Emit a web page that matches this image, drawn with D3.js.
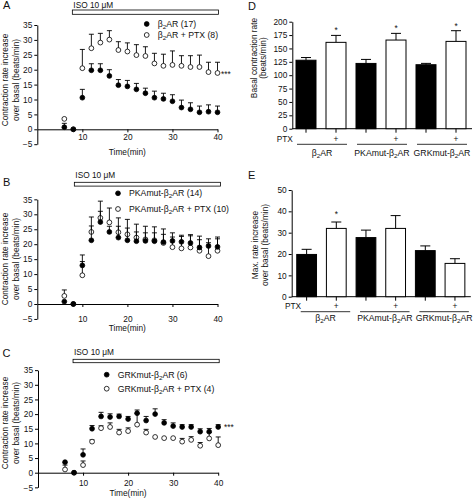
<!DOCTYPE html>
<html><head><meta charset="utf-8">
<script src="https://cdn.jsdelivr.net/npm/d3@7"></script>
<style>body{margin:0;background:#fff} svg{display:block;font-family:"Liberation Sans",Arial,sans-serif}</style>
</head><body><svg id="c" width="475" height="502"></svg>
<script>
// ---------- data ----------
const times = [6,8,10,12,14,16,18,20,22,24,26,28,30,32,34,36,38,40];
const yTicksTC = [-5,0,5,10,15,20,25,30,35];
const xTicksTC = [10,20,30,40];

const aFilled    = [0.7,0,10.6,19.8,19.8,17.9,14.8,14.4,13.4,12.1,10.6,10.2,9.4,7.3,6.7,5.7,5.9,5.7];
const aFilledErr = [2.0,null,13.4,22,22,20,16.7,16.4,15.4,13.8,12.8,12.1,11.6,9.8,8.9,7.8,8.2,7.8];
const aOpen      = [3.5,0,20.5,27.2,29.1,30.1,26.6,26.1,24.9,24.6,22.1,21.3,21.6,21.3,20.9,20.9,19.2,18.9];
const aOpenErr   = [null,null,26.8,31.9,32.2,33.1,29.4,29,28.4,27.7,25.5,25.2,26.3,24.7,24.7,24.9,22.5,22.5];

const bFilled    = [0.8,0,12.9,21.3,27.4,24.1,22.2,21.3,21,21.1,21,20.7,21.1,20.8,20.4,18.9,19.4,19.1];
const bFilledErr = [null,null,16.4,26.1,31,26,26,25.4,24.1,23.8,23.8,23.3,23.8,23,23.2,21.5,21.8,21.8];
const bOpen      = [2.7,0,9.6,24.1,28.8,27.3,24,23.3,22.2,21.6,21.3,20.4,19,18.6,18.9,17.8,16,17.8];
const bOpenErr   = [4.7,null,14.2,29.1,34.4,32.1,28.8,28.3,26.7,26,25.8,25.1,22.4,22.6,22.8,22.7,20.5,22.4];

const cFilled    = [3.6,0,6.1,15,19.2,19,19.2,18.3,20.3,17.8,20,17,15.9,15.6,15.6,14,14,15.6];
const cFilledErr = [null,null,8.1,16.1,20.6,20.1,20,19.2,21.4,19.2,21.8,18.1,17,16.4,16.4,15,15.1,16.4];
const cOpen      = [1.1,0,2.6,10.6,15.2,15.6,13.7,14.2,16.4,13.7,12.2,11.8,11.8,10.6,11.2,9.2,11.7,9.4];
const cOpenErr   = [2.6,null,4,11.2,16,17,14.8,15.3,20.3,14.8,null,null,null,11.7,12.3,10.3,13.7,12.2];

const barGroups = ["β_2AR","PKAmut-β_2AR","GRKmut-β_2AR"];
const ptxFlags  = ["","+","","+","","+"];
const basalRate = [128,161.4,122,165.7,119.6,163.2];
const basalSem  = [5,13,7.5,12.5,2.5,20];
const basalStar = [false,true,false,true,false,true];
const dTicks    = [0,25,50,75,100,125,150,175,200];
const maxRate   = [19.8,32,27.7,32,21.6,15.6];
const maxSem    = [2.4,3,3.5,6,2.2,2.2];
const maxStar   = [false,true,false,false,false,false];
const eTicks    = [0,10,20,30,40,50];

// ---------- helpers ----------
const svg = d3.select("#c");
const FS = 8.3;
function rich(t, s){
  s.split("_2").forEach((p,i)=>{
    if(i>0){
      t.append("tspan").attr("font-size","0.72em").attr("dy",2).text("2");
      t.append("tspan").attr("dy",-2).text(p);
    } else t.append("tspan").text(p);
  });
  return t;
}
function styleAxis(a){
  a.attr("font-family",null).attr("font-size",FS);
  a.selectAll("path,line").attr("stroke","#000").attr("stroke-width",1);
  a.selectAll("text").attr("fill","#111");
}

function timePanel(o){
  const x = d3.scaleLinear().domain([0,40]).range([o.left, o.left+180.2]);
  const y = d3.scaleLinear().domain([-5,35]).range([o.zero + 5*o.ppu, o.zero - 35*o.ppu]);
  const g = svg.append("g");
  const ya = g.append("g").attr("transform",`translate(${o.left},0)`)
    .call(d3.axisLeft(y).tickValues(yTicksTC).tickSize(3).tickSizeOuter(0).tickPadding(2));
  styleAxis(ya);
  const xa = g.append("g").attr("transform",`translate(0,${y(0)})`)
    .call(d3.axisBottom(x).tickValues(xTicksTC).tickSize(3).tickSizeOuter(0).tickPadding(o.xpad));
  styleAxis(xa);
  g.append("text").attr("x",o.left+90).attr("y",o.timeY).attr("text-anchor","middle")
    .attr("font-size",FS).attr("fill","#111").text("Time(min)");
  const yl = [["Contraction rate increase",8],["over basal (beats/min)",18.5]];
  yl.forEach(([s,bx])=>g.append("text").attr("transform",`translate(${bx},${o.ylabY}) rotate(-90)`)
    .attr("text-anchor","middle").attr("font-size",FS).attr("fill","#111").text(s));
  g.append("text").attr("x",o.letterX).attr("y",o.letterY).attr("font-size",11).attr("fill","#111").text(o.letter);
  g.append("rect").attr("x",x(8)-1+o.isoShift).attr("y",o.isoY).attr("width",x(40)-x(8)+2)
    .attr("height",o.isoH).attr("fill","#fff").attr("stroke","#000").attr("stroke-width",0.8);
  g.append("text").attr("x",x(8)+o.isoShift).attr("y",o.isoLabelY).attr("font-size",FS).attr("fill","#111").text("ISO 10 μM");
  function series(vals, errs, filled){
    const s = g.append("g");
    times.forEach((t,i)=>{
      if(errs[i]==null) return;
      s.append("line").attr("x1",x(t)).attr("x2",x(t)).attr("y1",y(vals[i])).attr("y2",y(errs[i]))
        .attr("stroke","#000").attr("stroke-width",0.9);
      s.append("line").attr("x1",x(t)-2.5).attr("x2",x(t)+2.5).attr("y1",y(errs[i])).attr("y2",y(errs[i]))
        .attr("stroke","#000").attr("stroke-width",0.9);
    });
    s.selectAll("circle").data(vals).join("circle")
      .attr("cx",(d,i)=>x(times[i])).attr("cy",d=>y(d)).attr("r",2.4)
      .attr("fill",filled?"#000":"#fff").attr("stroke","#000").attr("stroke-width",0.8);
  }
  series(o.open, o.openErr, false);
  series(o.filled, o.filledErr, true);
  const lg = g.append("g");
  [[true,o.legF],[false,o.legO]].forEach(([f,txt],k)=>{
    const cy = o.legY[k];
    lg.append("circle").attr("cx",o.legX).attr("cy",cy).attr("r",2.4)
      .attr("fill",f?"#000":"#fff").attr("stroke","#000").attr("stroke-width",0.8);
    rich(lg.append("text").attr("x",o.legX+11).attr("y",cy+3).attr("font-size",FS+0.4).attr("fill","#111"), txt);
  });
  if(o.stars) g.append("text").attr("x",o.stars[0]).attr("y",o.stars[1]).attr("font-size",FS).attr("fill","#111").text("***");
}

timePanel({letter:"A",letterX:3,letterY:9,left:37.3,zero:129.3,ppu:2.98,xpad:1.5,timeY:154.5,ylabY:80,
  isoY:10,isoH:4.3,isoShift:0,isoLabelY:7.5,
  filled:aFilled,filledErr:aFilledErr,open:aOpen,openErr:aOpenErr,
  legX:146.7,legY:[24,35],legF:"β_2AR (17)",legO:"β_2AR + PTX (8)",stars:[221,76.5]});
timePanel({letter:"B",letterX:3,letterY:185.5,left:37.3,zero:304,ppu:2.99,xpad:9,timeY:331,ylabY:259,
  isoY:182.3,isoH:3.8,isoShift:2,isoLabelY:178,
  filled:bFilled,filledErr:bFilledErr,open:bOpen,openErr:bOpenErr,
  legX:118,legY:[193.3,209],legF:"PKAmut-β_2AR (14)",legO:"PKAmut-β_2AR + PTX (10)",stars:null});
timePanel({letter:"C",letterX:2.5,letterY:357,left:38,zero:472.7,ppu:2.93,xpad:4.6,timeY:496,ylabY:423,
  isoY:359.3,isoH:3.4,isoShift:0,isoLabelY:355,
  filled:cFilled,filledErr:cFilledErr,open:cOpen,openErr:cOpenErr,
  legX:106.7,legY:[374.7,388.7],legF:"GRKmut-β_2AR (6)",legO:"GRKmut-β_2AR + PTX (4)",stars:[224,429.5]});

function barPanel(o){
  const x = d3.scaleBand().domain(d3.range(6)).range([o.x0, o.x0+o.len]).paddingInner(1/3).paddingOuter(1/6);
  const y = d3.scaleLinear().domain([0,o.max]).range([o.zero, o.top]);
  const g = svg.append("g");
  const ya = g.append("g").attr("transform",`translate(${o.axisX},0)`)
    .call(d3.axisLeft(y).tickValues(o.ticks).tickSize(3).tickSizeOuter(0).tickPadding(2));
  styleAxis(ya);
  g.append("line").attr("x1",o.axisX).attr("x2",o.x0+o.len+1).attr("y1",o.zero).attr("y2",o.zero)
    .attr("stroke","#000").attr("stroke-width",1);
  const cx = i=>x(i)+x.bandwidth()/2;
  o.vals.forEach((v,i)=>{
    const filled = i%2===0;
    const top = y(v+o.sems[i]);
    g.append("line").attr("x1",cx(i)).attr("x2",cx(i)).attr("y1",y(v)).attr("y2",top).attr("stroke","#000").attr("stroke-width",1);
    g.append("line").attr("x1",cx(i)-5).attr("x2",cx(i)+5).attr("y1",top).attr("y2",top).attr("stroke","#000").attr("stroke-width",1);
    g.append("rect").attr("x",x(i)).attr("y",y(v)).attr("width",x.bandwidth()).attr("height",o.zero-y(v))
      .attr("fill",filled?"#000":"#fff").attr("stroke","#000").attr("stroke-width",1);
    g.append("line").attr("x1",cx(i)).attr("x2",cx(i)).attr("y1",o.zero).attr("y2",o.zero+4).attr("stroke","#000").attr("stroke-width",1);
    if(o.star[i]) g.append("text").attr("x",cx(i)).attr("y",top-o.starOff).attr("text-anchor","middle")
      .attr("font-size",FS).attr("fill","#111").text("*");
    if(ptxFlags[i]) g.append("text").attr("x",cx(i)).attr("y",o.ptxY).attr("text-anchor","middle")
      .attr("font-size",FS).attr("fill","#111").text(ptxFlags[i]);
  });
  g.append("text").attr("x",o.ptxX).attr("y",o.ptxY).attr("font-size",FS).attr("fill","#111").text("PTX");
  barGroups.forEach((s,k)=>{
    const a = x(2*k)+o.grpShift, b = x(2*k+1)+x.bandwidth()+o.grpShift;
    g.append("line").attr("x1",a).attr("x2",b).attr("y1",o.grpLineY).attr("y2",o.grpLineY).attr("stroke","#000").attr("stroke-width",0.8);
    rich(g.append("text").attr("x",(a+b)/2).attr("y",o.grpY).attr("text-anchor","middle").attr("font-size",FS+0.4).attr("fill","#111"), s);
  });
  o.ylab.forEach(([s,bx])=>g.append("text").attr("transform",`translate(${bx},${o.ylabY}) rotate(-90)`)
    .attr("text-anchor","middle").attr("font-size",FS).attr("fill","#111").text(s));
  g.append("text").attr("x",o.letterX).attr("y",o.letterY).attr("font-size",11).attr("fill","#111").text(o.letter);
}

barPanel({letter:"D",letterX:248,letterY:10,x0:291,len:180,axisX:292.3,zero:128.7,top:21.7,max:200,ticks:dTicks,
  vals:basalRate,sems:basalSem,star:basalStar,starOff:2,ptxX:276.7,ptxY:141.5,grpLineY:144.3,grpY:155.5,grpShift:1,
  ylab:[["Basal contraction rate",256.5],["(beats/min)",266]],ylabY:58});
barPanel({letter:"E",letterX:248,letterY:179,x0:291.8,len:178,axisX:291.7,zero:296.7,top:190,max:50,ticks:eTicks,
  vals:maxRate,sems:maxSem,star:maxStar,starOff:5,ptxX:285,ptxY:309,grpLineY:311.7,grpY:320.5,grpShift:4,
  ylab:[["Max. rate increase",258],["over basal (beats/min)",268]],ylabY:245});
</script></body></html>
